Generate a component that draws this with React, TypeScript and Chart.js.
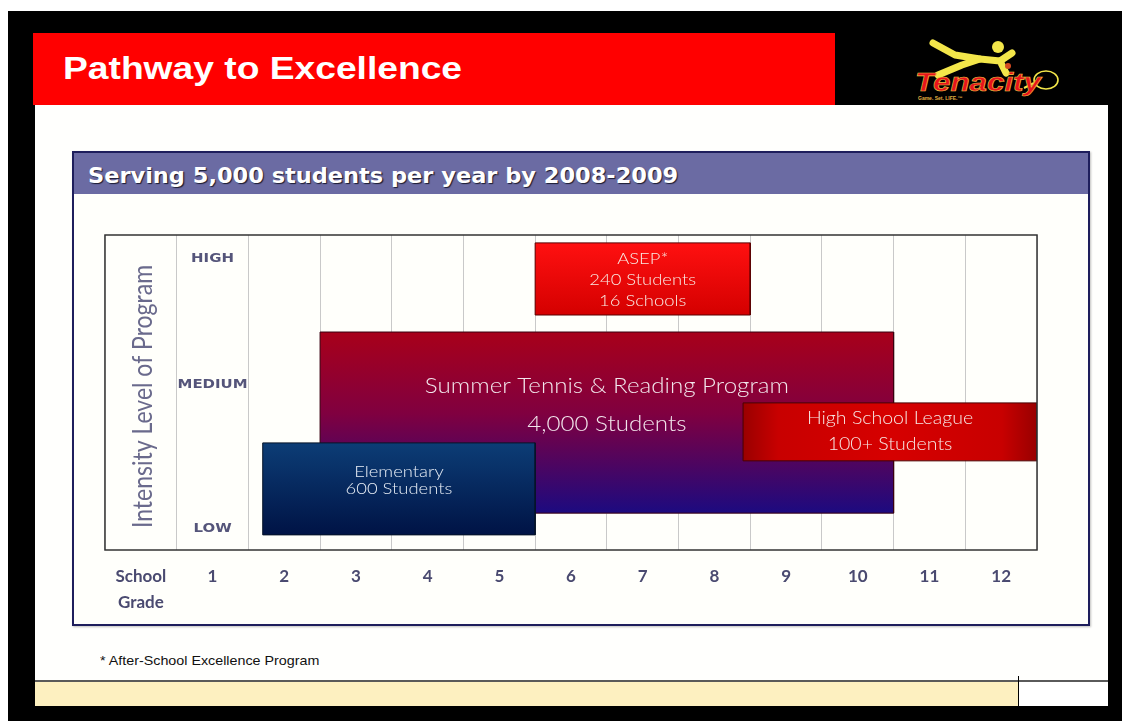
import React, { useEffect, useRef } from 'react';
import { Chart, registerables } from 'chart.js';

Chart.register(...registerables);

// ---------- data ----------
const axisLabel = ['School', 'Grade'];
const gradeLabels = ['1', '2', '3', '4', '5', '6', '7', '8', '9', '10', '11', '12'];

const levelNames = ['HIGH', 'MEDIUM', 'LOW'];
const levelValues = [92.5, 52.5, 6.7];
const yAxisTitle = 'Intensity Level of Program';

const programNames = ['Summer Tennis & Reading Program', 'ASEP', 'Elementary', 'High School League'];
const programGradeStart = [2.5, 5.5, 1.7, 8.4];
const programGradeEnd = [10.5, 8.5, 5.5, 12.5];
const programIntensityLow = [11.7, 74.6, 4.8, 28.3];
const programIntensityHigh = [69.2, 97.5, 34, 46.7];
const programLabelLines = [
  ['Summer Tennis & Reading Program', '4,000 Students'],
  ['ASEP*', '240 Students', '16 Schools'],
  ['Elementary', '600 Students'],
  ['High School League', '100+ Students'],
];

// ---------- styles ----------
type Style = {
  stops: [number, string][];
  dir: 'v' | 'h';
  border: string;
  font: number;
  gap: number;
  dy: number;
  color: string;
  order: number;
};
const programStyles: Style[] = [
  { stops: [[0, '#a8001a'], [0.45, '#800040'], [1, '#1c0a80']], dir: 'v', border: '#3a0010', font: 21, gap: 38, dy: -17, color: '#f2e6ec', order: 1 },
  { stops: [[0, '#ff1010'], [1, '#d40000']], dir: 'v', border: '#5a0000', font: 16, gap: 21, dy: 1, color: '#f8ebe4', order: 0 },
  { stops: [[0, '#0c3d76'], [1, '#001345']], dir: 'v', border: '#061428', font: 16, gap: 17, dy: -9, color: '#e8eef6', order: 0 },
  { stops: [[0, '#9a0000'], [0.12, '#c80000'], [0.5, '#d60000'], [0.88, '#c80000'], [1, '#980000']], dir: 'h', border: '#4a0000', font: 17, gap: 26, dy: 0, color: '#f6e6e2', order: 0 },
];
const STRETCH = 1.15;

function makeFill(chart: any, i: number) {
  const st = programStyles[i];
  const xs = chart.scales?.xd;
  const ys = chart.scales?.y;
  if (!chart.chartArea || !xs || !ys) return st.stops[0][1];
  let g;
  if (st.dir === 'v') {
    g = chart.ctx.createLinearGradient(0, ys.getPixelForValue(programIntensityHigh[i]), 0, ys.getPixelForValue(programIntensityLow[i]));
  } else {
    g = chart.ctx.createLinearGradient(xs.getPixelForValue(programGradeStart[i]), 0, xs.getPixelForValue(programGradeEnd[i]), 0);
  }
  st.stops.forEach(([o, c]) => g.addColorStop(o, c));
  return g;
}

function stretchedText(ctx: CanvasRenderingContext2D, text: string, x: number, y: number, sx: number) {
  ctx.save();
  ctx.translate(x, y);
  ctx.scale(sx, 1);
  ctx.fillText(text, 0, 0);
  ctx.restore();
}

const overlayPlugin = {
  id: 'overlay',
  afterDatasetsDraw(chart: any) {
    const { ctx, chartArea, scales } = chart;
    const xs = scales.xd;
    const ys = scales.y;
    ctx.save();
    // frame
    ctx.strokeStyle = '#333333';
    ctx.lineWidth = 1.5;
    ctx.strokeRect(chartArea.left, chartArea.top, chartArea.width, chartArea.height);

    ctx.textAlign = 'center';
    ctx.textBaseline = 'middle';
    // program labels
    programLabelLines.forEach((lines, i) => {
      const st = programStyles[i];
      const cx = xs.getPixelForValue((programGradeStart[i] + programGradeEnd[i]) / 2);
      const cy = ys.getPixelForValue((programIntensityLow[i] + programIntensityHigh[i]) / 2) + st.dy;
      ctx.fillStyle = st.color;
      ctx.font = `300 ${st.font}px Lato`;
      lines.forEach((t, k) => {
        stretchedText(ctx, t, cx, cy + (k - (lines.length - 1) / 2) * st.gap, STRETCH);
      });
    });

    // level labels
    ctx.fillStyle = '#55557a';
    ctx.font = 'bold 13px "DejaVu Sans"';
    levelNames.forEach((t, k) => {
      stretchedText(ctx, t, xs.getPixelForValue(1), ys.getPixelForValue(levelValues[k]), STRETCH);
    });

    // y axis title
    ctx.fillStyle = '#6a6a8c';
    ctx.font = '400 23px Lato';
    ctx.save();
    ctx.translate(xs.getPixelForValue(0) + 3, (chartArea.top + chartArea.bottom) / 2 + 4);
    ctx.rotate(-Math.PI / 2);
    ctx.scale(1, STRETCH);
    ctx.fillText(yAxisTitle, 0, 0);
    ctx.restore();

    ctx.restore();
  },
};

function PathwayChart() {
  const ref = useRef<HTMLCanvasElement | null>(null);
  useEffect(() => {
    if (!ref.current) return;
    const datasets = programNames.map((name, i) => {
      const s = programGradeStart[i];
      const e = programGradeEnd[i];
      const lo = programIntensityLow[i];
      const hi = programIntensityHigh[i];
      return {
        label: name,
        xAxisID: 'xd',
        yAxisID: 'y',
        data: [
          { x: s, y: hi },
          { x: e, y: hi },
          { x: e, y: lo },
          { x: s, y: lo },
          { x: s, y: hi },
        ],
        fill: 'shape',
        backgroundColor: (c: any) => makeFill(c.chart, i),
        borderColor: programStyles[i].border,
        borderWidth: 1,
        pointRadius: 0,
        pointHoverRadius: 0,
        tension: 0,
        order: programStyles[i].order,
      };
    });
    const chart = new Chart(ref.current, {
      type: 'line',
      data: { labels: [axisLabel, ...gradeLabels] as any, datasets: datasets as any },
      options: {
        animation: false,
        responsive: false,
        maintainAspectRatio: false,
        events: [],
        layout: { padding: { left: 5, top: 5, right: 8, bottom: 0 } },
        plugins: { legend: { display: false }, tooltip: { enabled: false } },
        scales: {
          x: {
            type: 'category',
            position: 'bottom',
            offset: true,
            grid: { offset: true, color: '#c9c9c9', lineWidth: 1, drawTicks: false },
            border: { display: false },
            ticks: {
              padding: 14,
              color: '#4a4a70',
              autoSkip: false,
              maxRotation: 0,
              font: { family: 'Lato', weight: 'bold', size: 17, lineHeight: 1.53 },
            },
            afterFit: (s: any) => {
              s.height = 70;
            },
          },
          xd: { type: 'linear', position: 'bottom', display: false, min: -0.5, max: 12.5 },
          y: { type: 'linear', display: false, min: 0, max: 100 },
        } as any,
      },
      plugins: [overlayPlugin],
    });
    return () => chart.destroy();
  }, []);
  return (
    <canvas
      ref={ref}
      width={945}
      height={390}
      style={{ position: 'absolute', left: 100, top: 230, width: 945, height: 390 }}
    />
  );
}

function Logo() {
  return (
    <svg width={180} height={72} style={{ position: 'absolute', left: 900, top: 33 }}>
      <g stroke="#f3e64a" strokeWidth={7} strokeLinecap="round" strokeLinejoin="round" fill="none">
        <polyline points="33,10 55,22 80,26 100,28 106,40" />
        <polyline points="38,42 62,32 80,26" />
        <polyline points="100,28 112,20" />
      </g>
      <circle cx={98} cy={14} r={6} fill="#f3e64a" />
      <circle cx={108} cy={33} r={3} fill="#d44a20" />
      <ellipse cx={146} cy={47} rx={12} ry={9} fill="none" stroke="#f3e64a" strokeWidth={1.6} />
      <line x1={134} y1={50} x2={124} y2={55} stroke="#f3e64a" strokeWidth={2} />
      <text
        x={15}
        y={58}
        fontFamily="Liberation Sans"
        fontWeight="bold"
        fontStyle="italic"
        fontSize={26}
        fill="#e8141c"
        stroke="#f0c040"
        strokeWidth={0.6}
        textLength={126}
        lengthAdjust="spacingAndGlyphs"
      >
        Tenacity
      </text>
      <text x={18} y={67} fontFamily="Liberation Sans" fontWeight="bold" fontSize={5} fill="#e0b040">
        Game. Set. LIFE.™
      </text>
    </svg>
  );
}

export default function App() {
  return (
    <div
      style={{
        position: 'absolute',
        left: 0,
        top: 0,
        width: 1122,
        height: 721,
        overflow: 'hidden',
        background: '#ffffff',
        fontFamily: 'Liberation Sans, Arial, sans-serif',
      }}
    >
      <div style={{ position: 'absolute', left: 8, top: 11, width: 1114, height: 710, background: '#000' }} />
      <div style={{ position: 'absolute', left: 33, top: 33, width: 802, height: 72, background: '#ff0000' }} />
      <div
        style={{
          position: 'absolute',
          left: 63,
          top: 53,
          fontSize: 31,
          lineHeight: '31px',
          fontWeight: 'bold',
          color: '#fff',
          whiteSpace: 'nowrap',
          transform: 'scaleX(1.2)',
          transformOrigin: 'left top',
        }}
      >
        Pathway to Excellence
      </div>
      <Logo />
      <div style={{ position: 'absolute', left: 35, top: 105, width: 1073, height: 577, background: '#fffffd' }} />
      <div
        style={{
          position: 'absolute',
          left: 72,
          top: 151,
          width: 1018,
          height: 475,
          boxSizing: 'border-box',
          border: '2px solid #1e1e5c',
          background: '#fffffb',
          boxShadow: '1px 1px 2px rgba(0,0,0,0.25)',
        }}
      >
        <div style={{ position: 'absolute', left: 0, top: 0, right: 0, height: 41, background: '#6b6ba3' }} />
        <div
          style={{
            position: 'absolute',
            left: 14,
            top: 0,
            height: 46,
            lineHeight: '46px',
            fontFamily: '"DejaVu Sans", sans-serif',
            fontWeight: 'bold',
            fontSize: 21,
            color: '#fff',
            whiteSpace: 'nowrap',
            textShadow: '1px 1px 1px #1a1a30',
            transform: 'scaleX(1.07)',
            transformOrigin: 'left top',
          }}
        >
          Serving 5,000 students per year by 2008-2009
        </div>
      </div>
      <PathwayChart />
      <div
        style={{
          position: 'absolute',
          left: 100,
          top: 653,
          fontSize: 13,
          lineHeight: '16px',
          color: '#111',
          whiteSpace: 'nowrap',
          transform: 'scaleX(1.1)',
          transformOrigin: 'left top',
        }}
      >
        * After-School Excellence Program
      </div>
      <div style={{ position: 'absolute', left: 35, top: 680, width: 1073, height: 2, background: '#5a5a5a' }} />
      <div style={{ position: 'absolute', left: 35, top: 682, width: 983, height: 24, background: '#fdf0c0' }} />
      <div style={{ position: 'absolute', left: 1018, top: 676, width: 1, height: 30, background: '#000' }} />
      <div style={{ position: 'absolute', left: 1019, top: 682, width: 89, height: 24, background: '#ffffff' }} />
    </div>
  );
}
